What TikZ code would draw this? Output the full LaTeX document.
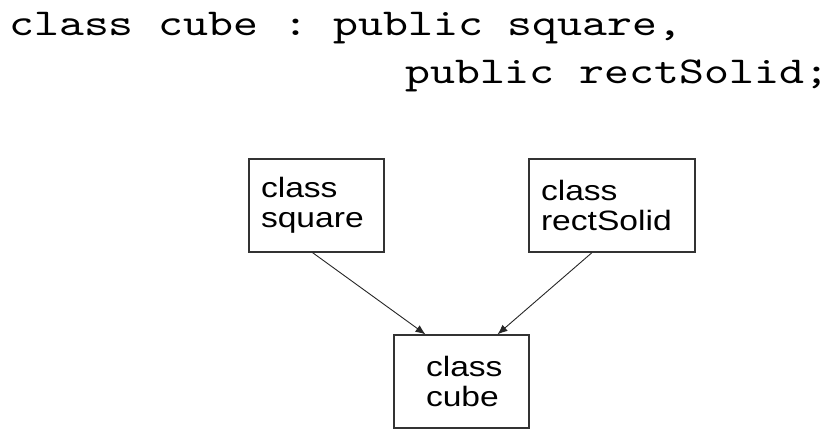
\documentclass[tikz,border=0pt]{standalone}
\usepackage{fontspec}
\usepackage{tikz}
\usetikzlibrary{positioning, arrows.meta}

\newfontfamily\codefont{lmmono10-regular.otf}[FakeStretch=1.25]
\newfontfamily\boxfont[FakeStretch=1.2]{Liberation Sans}

\begin{document}
\begin{tikzpicture}[x=1pt, y=-1pt,
    codeline/.style={anchor=base west, inner sep=0pt, font=\codefont\fontsize{38}{48}\selectfont\frenchspacing},
    classbox/.style={draw=black!80, line width=1.2pt, align=left, minimum height=93pt, inner ysep=0pt,
      font=\boxfont\fontsize{28}{30}\selectfont},
    inherit/.style={draw=black!85, line width=0.9pt, -{Latex[length=10pt, width=8pt]}}]
  \useasboundingbox (0,0) rectangle (835,439);
  % declaration
  \node[codeline] (code1) at (9,35) {class cube : public square,};
  \node[codeline] (code2) at (405,83) {public rectSolid;};
  % class boxes
  \node[classbox, inner xsep=12pt, text width=111pt] (square) at (316.5,205.5) {class\\square};
  \node[classbox, inner xsep=12pt, text width=142pt] (rectSolid) at (612,205.5) {class\\rectSolid};
  \node[classbox, inner xsep=32pt, text width=71pt] (cube) at (461.5,381.5) {class\\cube};
  \draw[inherit] ([xshift=-4pt]square.south) -- ([xshift=-36pt]cube.north);
  \draw[inherit] ([xshift=-20pt]rectSolid.south) -- ([xshift=36pt]cube.north);
\end{tikzpicture}
\end{document}
